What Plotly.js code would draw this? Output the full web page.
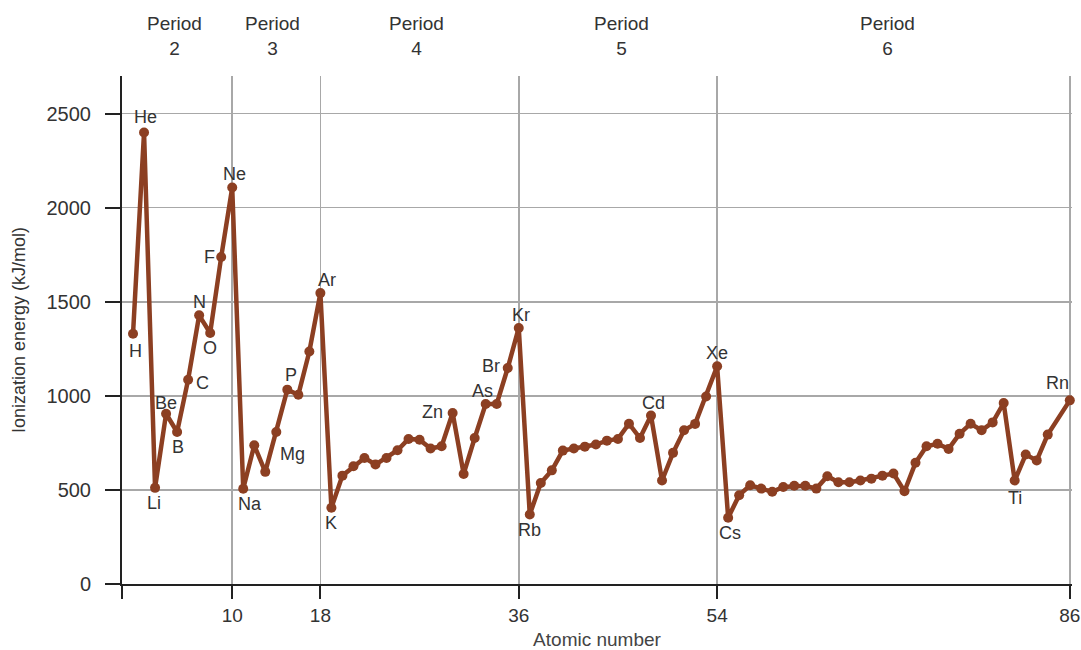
<!DOCTYPE html>
<html>
<head>
<meta charset="utf-8">
<script src="https://cdn.plot.ly/plotly-3.0.1.min.js"></script>
<style>html,body{margin:0;padding:0;background:#fff;}#chart{width:1081px;height:650px;}</style>
</head>
<body>
<div id="chart"></div>
<script>
// Atomic numbers (no point drawn for 85 in the reference)
const atomicNumbers = [1,2,3,4,5,6,7,8,9,10,11,12,13,14,15,16,17,18,19,20,21,22,23,24,25,26,27,28,29,30,31,32,33,34,35,36,37,38,39,40,41,42,43,44,45,46,47,48,49,50,51,52,53,54,55,56,57,58,59,60,61,62,63,64,65,66,67,68,69,70,71,72,73,74,75,76,77,78,79,80,81,82,83,84,86];
// First ionization energies (kJ/mol)
const ionizationEnergy = [1330,2400,511,905,808,1086,1428,1334,1738,2107,506,737,596,808,1033,1006,1236,1546,405,576,626,670,635,670,711,771,767,720,732,909,585,776,957,957,1148,1361,369,537,604,709,720,730,741,762,771,852,776,895,550,697,817,851,997,1157,352,472,525,507,490,516,522,522,507,573,541,541,550,560,576,587,493,644,732,745,718,798,852,817,859,962,550,688,657,794,976];

const labelNames = ['H','He','Li','Be','B','C','N','O','F','Ne','Na','Mg','P','Ar','K','Zn','As','Br','Kr','Rb','Cd','Xe','Cs','Ti','Rn'];
const labelZ     = [1,2,3,4,5,6,7,8,9,10,11,12,15,18,19,30,33,35,36,37,48,54,55,81,86];

const periodLabels = ['Period<br>2','Period<br>3','Period<br>4','Period<br>5','Period<br>6'];
const periodCenters = [4.76,13.7,26.75,45.3,69.5];

const xTickVals = [0,10,18,36,54,86];
const xTickText = ['','10','18','36','54','86'];
const yTickVals = [0,500,1000,1500,2000,2500];

// label offsets in pixels (dx right, dy down) – styling only
const labelOffsets = {
  H:[2,17], He:[1,-15], Li:[-1,15], Be:[0,-11], B:[1,15], C:[14,3], N:[0,-13], O:[0,15],
  F:[-12,0], Ne:[2,-14], Na:[7,15], Mg:[38,9], P:[4,-15], Ar:[7,-13], K:[0,15], Zn:[-20,-1],
  As:[-3,-13], Br:[-17,-2], Kr:[2,-13], Rb:[0,15], Cd:[2,-13], Xe:[0,-13], Cs:[2,15], Ti:[0,17], Rn:[-12,-17]
};

const FONT = '"Liberation Sans", Arial, sans-serif';
const LINE = '#8c3f22';

const trace = {
  x: atomicNumbers, y: ionizationEnergy, type: 'scatter', mode: 'lines+markers',
  line: {color: LINE, width: 4.5},
  marker: {color: LINE, size: 10},
  cliponaxis: false,
  hoverinfo: 'x+y', showlegend: false
};

const annotations = [];
labelNames.forEach((name, i) => {
  const z = labelZ[i];
  const idx = atomicNumbers.indexOf(z);
  const off = labelOffsets[name];
  annotations.push({
    x: z, y: ionizationEnergy[idx], xref: 'x', yref: 'y', text: name, showarrow: false,
    xshift: off[0], yshift: -off[1], font: {family: FONT, size: 18, color: '#333'}
  });
});
periodLabels.forEach((t, i) => {
  annotations.push({
    x: periodCenters[i], xref: 'x', y: 1.079, yref: 'paper', text: t, showarrow: false,
    yanchor: 'middle', font: {family: FONT, size: 19, color: '#333'}
  });
});

const layout = {
  width: 1081, height: 650,
  margin: {l: 122, r: 9, t: 76, b: 66},
  paper_bgcolor: '#fff', plot_bgcolor: '#fff',
  font: {family: FONT, size: 17, color: '#333'},
  xaxis: {
    range: [0, 86.2], tickmode: 'array', tickvals: xTickVals, ticktext: xTickText,
    ticks: 'outside', ticklen: 13, tickwidth: 2, tickcolor: '#222',
    showline: true, linecolor: '#222', linewidth: 2,
    showgrid: true, gridcolor: '#a8a8a8', gridwidth: 1.5, zeroline: false,
    tickfont: {family: FONT, size: 19, color: '#333'},
    title: {text: 'Atomic number', font: {family: FONT, size: 19, color: '#444'}, standoff: 10}
  },
  yaxis: {
    range: [0, 2700], tickmode: 'array', tickvals: yTickVals,
    ticks: 'outside', ticklen: 15, tickwidth: 2, tickcolor: '#222',
    showline: true, linecolor: '#222', linewidth: 2,
    showgrid: true, gridcolor: '#a8a8a8', gridwidth: 1.5, zeroline: false,
    ticklabelstandoff: 10,
    tickfont: {family: FONT, size: 20, color: '#333'},
    title: {text: 'Ionization energy (kJ/mol)', font: {family: FONT, size: 18, color: '#333'}, standoff: 16}
  },
  annotations: annotations
};

Plotly.newPlot('chart', [trace], layout, {displayModeBar: false, staticPlot: true});
</script>
</body>
</html>
